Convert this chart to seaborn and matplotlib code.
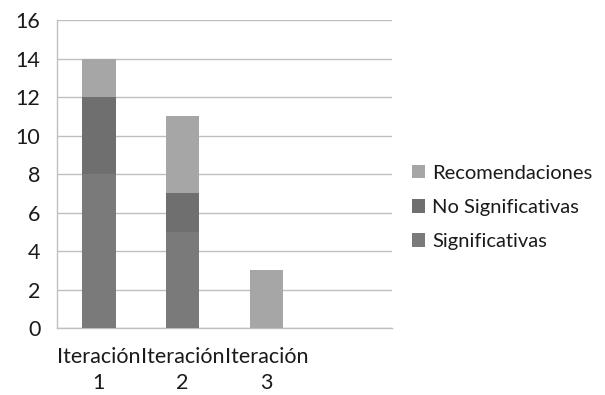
import matplotlib
matplotlib.use("Agg")
import matplotlib.pyplot as plt
import seaborn as sns
import numpy as np
from matplotlib.patches import Patch

# Data
categorias = ["Iteración\n1", "Iteración\n2", "Iteración\n3"]
significativas = [8, 5, 0]
no_significativas = [4, 2, 0]
recomendaciones = [2, 4, 3]
y_ticks = [0, 2, 4, 6, 8, 10, 12, 14, 16]

color_sig = "#7a7a7a"
color_nosig = "#6f6f6f"
color_rec = "#a6a6a6"
grid_color = "#bfbfbf"
text_color = "#1a1a1a"
fs = 15.5

sns.set_theme(style="white")
plt.rcParams["font.family"] = ["Lato", "DejaVu Sans"]

fig = plt.figure(figsize=(6.05, 3.95), dpi=100)
ax = fig.add_axes([0.0942, 0.1696, 0.5538, 0.7797])

base1 = np.array(significativas)
base2 = base1 + np.array(no_significativas)

common = dict(ax=ax, width=0.4, linewidth=0, zorder=3)
sns.barplot(x=categorias, y=significativas, color=color_sig, saturation=1, **common)
sns.barplot(x=categorias, y=no_significativas, bottom=base1, color=color_nosig, saturation=1, **common)
sns.barplot(x=categorias, y=recomendaciones, bottom=base2, color=color_rec, saturation=1, **common)

ax.set_xlim(-0.5, 3.5)
ax.set_ylim(0, 16)
ax.set_yticks(y_ticks)
ax.set_yticklabels([str(v) for v in y_ticks], fontsize=fs, color=text_color)
ax.yaxis.grid(True, color=grid_color, linewidth=1.0, zorder=0)
ax.set_axisbelow(True)

# category boundary ticks on x axis, labels centred in each slot
ax.set_xticks([0, 1, 2])
ax.set_xticklabels(categorias, fontsize=fs, color=text_color, linespacing=1.35)
ax.tick_params(axis="x", length=0, pad=14)
ax.set_xticks([-0.5, 0.5, 1.5, 2.5, 3.5], minor=True)
ax.tick_params(axis="x", which="minor", length=5, color=grid_color, width=1)
ax.tick_params(axis="y", length=7, color=grid_color, width=1, pad=5)

for s in ["top", "right"]:
    ax.spines[s].set_visible(False)
for s in ["left", "bottom"]:
    ax.spines[s].set_color(grid_color)
    ax.spines[s].set_linewidth(1.0)
ax.set_xlabel("")
ax.set_ylabel("")

handles = [
    Patch(facecolor=color_rec, edgecolor="none", label="Recomendaciones"),
    Patch(facecolor=color_nosig, edgecolor="none", label="No Significativas"),
    Patch(facecolor=color_sig, edgecolor="none", label="Significativas"),
]
fig.legend(handles=handles, loc="center left", bbox_to_anchor=(0.681, 0.475),
           frameon=False, fontsize=14.5, handlelength=0.65, handleheight=0.65,
           handletextpad=0.35, labelspacing=0.85, labelcolor=text_color,
           borderpad=0, borderaxespad=0)

fig.savefig("out.png", dpi=100)
